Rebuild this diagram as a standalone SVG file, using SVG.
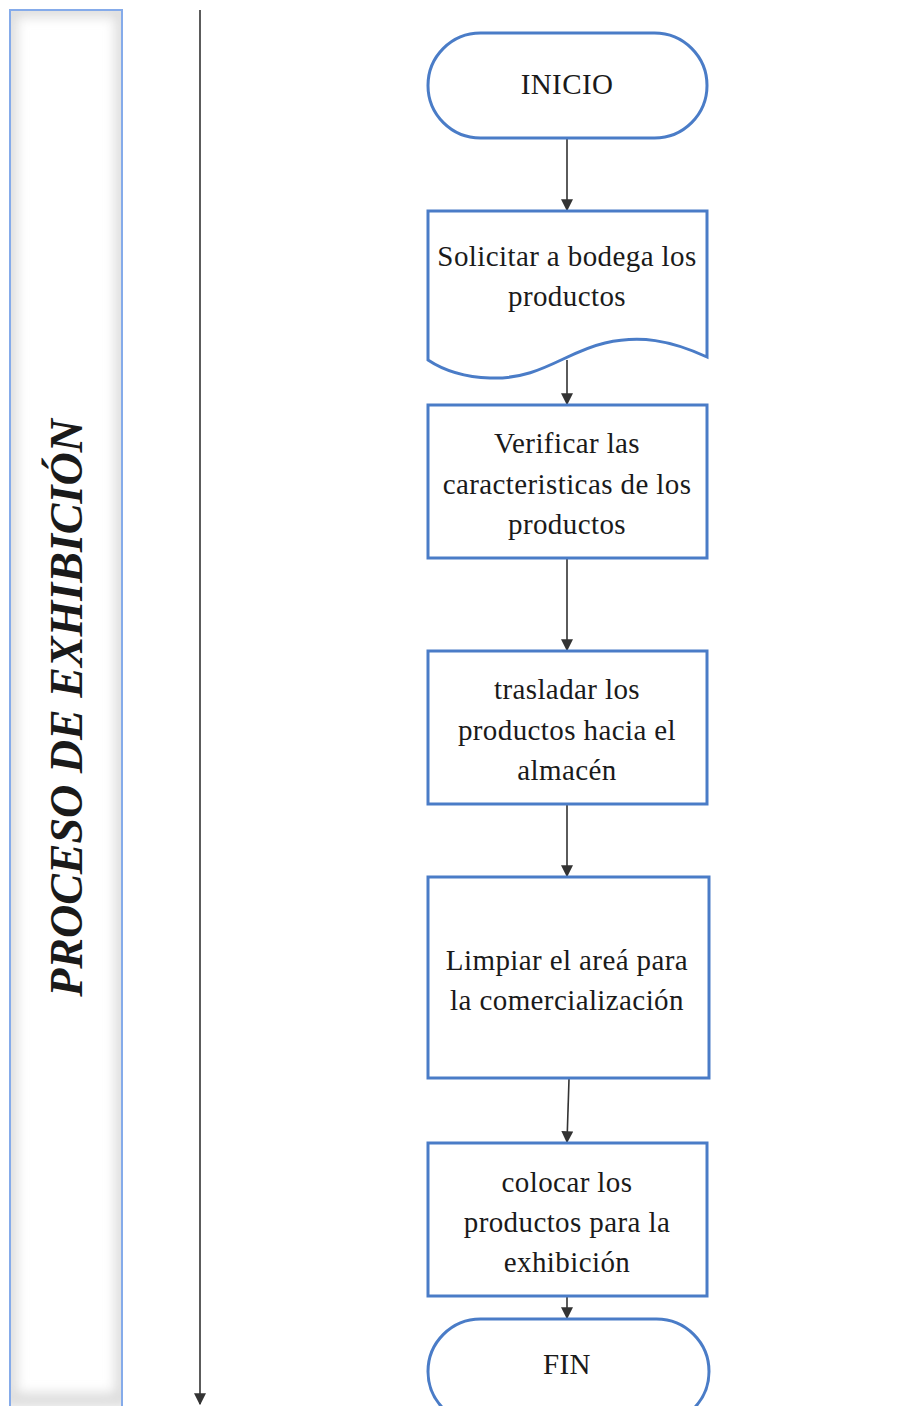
<svg xmlns="http://www.w3.org/2000/svg" width="913" height="1406" viewBox="0 0 913 1406">
  <defs>
    <style>
      .shape { fill: #ffffff; stroke: #4a7cc7; stroke-width: 3; }
      .lbl { font-family: "Liberation Serif", "Times New Roman", serif; font-size: 29px; letter-spacing: 0.4px; fill: #1a1a1a; text-anchor: middle; }
      .title { font-family: "Liberation Serif", "Times New Roman", serif; font-size: 46px; font-weight: bold; font-style: italic; fill: #1a1a1a; text-anchor: middle; }
      .conn { stroke: #333333; stroke-width: 1.6; fill: none; marker-end: url(#arrow); }
    </style>
    <marker id="arrow" viewBox="0 0 10 10" refX="9" refY="5" markerWidth="12" markerHeight="12" markerUnits="userSpaceOnUse" orient="auto">
      <path d="M0,0 L10,5 L0,10 z" fill="#333333"/>
    </marker>
    <clipPath id="laneClip">
      <rect x="10" y="10" width="112" height="1410"/>
    </clipPath>
    <filter id="soft" x="-0.5" y="-0.5" width="2" height="2">
      <feGaussianBlur stdDeviation="6"/>
    </filter>
  </defs>

  <rect width="913" height="1406" fill="#ffffff"/>

  <!-- swimlane header with a soft inner shade -->
  <g id="lane">
    <rect x="10" y="10" width="112" height="1410" fill="#ffffff"/>
    <g clip-path="url(#laneClip)">
      <rect x="10" y="10" width="112" height="1390" fill="none" stroke="#dcdcdc" stroke-width="14" filter="url(#soft)"/>
    </g>
    <rect x="10" y="10" width="112" height="1410" fill="none" stroke="#85abea" stroke-width="2"/>
    <text class="title" transform="translate(82,708) rotate(-90)">PROCESO DE EXHIBICIÓN</text>
  </g>

  <!-- connectors -->
  <g id="connectors">
    <line class="conn" x1="200" y1="10" x2="200" y2="1404"/>
    <line class="conn" x1="567" y1="139" x2="567" y2="210"/>
    <line class="conn" x1="567" y1="360" x2="567" y2="404"/>
    <line class="conn" x1="567" y1="559" x2="567" y2="650"/>
    <line class="conn" x1="567" y1="805" x2="567" y2="876"/>
    <line class="conn" x1="569" y1="1079" x2="567" y2="1142"/>
    <line class="conn" x1="567" y1="1297" x2="567" y2="1318"/>
  </g>

  <g id="inicio">
    <rect class="shape" x="428" y="33" width="279" height="105" rx="52.5" ry="52.5"/>
    <text class="lbl" x="567" y="94">INICIO</text>
  </g>

  <g id="solicitar">
    <path class="shape" d="M428,211 H707 V357 C670,340 640,335 605,343 C565,352 540,380 490,378 C460,377 440,368 428,360 Z"/>
    <text class="lbl" x="567" y="266">Solicitar a bodega los</text>
    <text class="lbl" x="567" y="306">productos</text>
  </g>

  <g id="verificar">
    <rect class="shape" x="428" y="405" width="279" height="153"/>
    <text class="lbl" x="567" y="453">Verificar las</text>
    <text class="lbl" x="567" y="494">caracteristicas de los</text>
    <text class="lbl" x="567" y="534">productos</text>
  </g>

  <g id="trasladar">
    <rect class="shape" x="428" y="651" width="279" height="153"/>
    <text class="lbl" x="567" y="699">trasladar los</text>
    <text class="lbl" x="567" y="740">productos hacia el</text>
    <text class="lbl" x="567" y="780">almacén</text>
  </g>

  <g id="limpiar">
    <rect class="shape" x="428" y="877" width="281" height="201"/>
    <text class="lbl" x="567" y="970">Limpiar el areá para</text>
    <text class="lbl" x="567" y="1010">la comercialización</text>
  </g>

  <g id="colocar">
    <rect class="shape" x="428" y="1143" width="279" height="153"/>
    <text class="lbl" x="567" y="1192">colocar los</text>
    <text class="lbl" x="567" y="1232">productos para la</text>
    <text class="lbl" x="567" y="1272">exhibición</text>
  </g>

  <g id="fin">
    <rect class="shape" x="428" y="1319" width="281" height="105" rx="52.5" ry="52.5"/>
    <text class="lbl" x="567" y="1374">FIN</text>
  </g>
</svg>
